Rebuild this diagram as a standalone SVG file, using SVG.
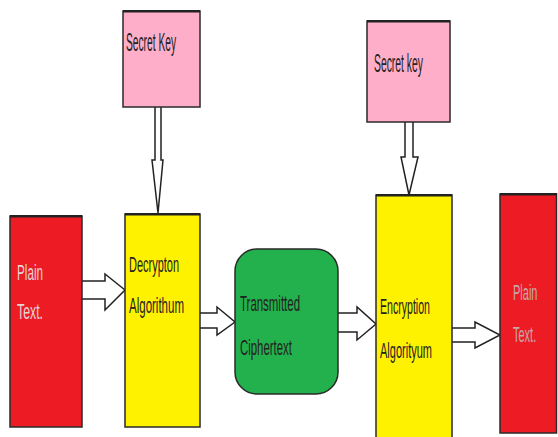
<svg xmlns="http://www.w3.org/2000/svg" width="558" height="437" viewBox="0 0 558 437">
<style>
.box{stroke:#2a2a2a;stroke-width:1.5}
.red{fill:#ed1c24}.yel{fill:#fff200}.grn{fill:#22b14c}.pink{fill:#ffaec9}
.t{font-family:"Liberation Sans",Arial,sans-serif;fill:#222}
.arr{fill:#fff;stroke:#222;stroke-width:1.5;stroke-linejoin:miter}
</style>
<rect width="558" height="437" fill="#fff"/>
<g id="connectors">
<path class="arr" d="M155,107 V160 H152 L158,213 L163,160 H161 V107"/>
<path class="arr" d="M405,122 V157 H401 L409,195 L418,157 H413 V122"/>
<path class="arr" d="M82,281 H105 V274 L125,290 L105,310 V299 H82"/>
<path class="arr" d="M200,313 H217 V307 L235,322 L217,335 V328 H200"/>
<path class="arr" d="M338,313 H357 V307 L376,324 L357,340 V332 H338"/>
<path class="arr" d="M452,328 H475 V322 L500,335 L475,348 V342 H452"/>
</g>
<g id="key1">
<rect class="box pink" x="123" y="11" width="77" height="96"/>
<rect x="123" y="10" width="77" height="2.5" fill="#222"/>
<text class="t" x="126" y="51" font-size="26" textLength="50" lengthAdjust="spacingAndGlyphs">Secret Key</text>
</g>
<g id="key2">
<rect class="box pink" x="367" y="21" width="83" height="101"/>
<rect x="367" y="20" width="83" height="2.5" fill="#222"/>
<text class="t" x="374" y="72" font-size="26" textLength="49" lengthAdjust="spacingAndGlyphs">Secret key</text>
</g>
<g id="plain1">
<rect class="box red" x="10" y="216" width="72" height="211"/>
<rect x="10" y="215" width="72" height="2.5" fill="#222"/>
<text class="t" x="17" y="280" font-size="22" textLength="26" lengthAdjust="spacingAndGlyphs" style="fill:#e4d4d4">Plain</text>
<text class="t" x="17" y="319" font-size="22" textLength="26" lengthAdjust="spacingAndGlyphs" style="fill:#e4d4d4">Text.</text>
</g>
<g id="decryption">
<rect class="box yel" x="125" y="214" width="75" height="213"/>
<rect x="125" y="213" width="75" height="2.5" fill="#222"/>
<text class="t" x="129" y="272" font-size="22" textLength="50" lengthAdjust="spacingAndGlyphs">Decrypton</text>
<text class="t" x="129" y="313" font-size="22" textLength="55" lengthAdjust="spacingAndGlyphs">Algorithum</text>
</g>
<g id="transmitted">
<rect class="box grn" x="235" y="249" width="103" height="145" rx="22" ry="22"/>
<text class="t" x="240" y="311" font-size="22" textLength="60" lengthAdjust="spacingAndGlyphs">Transmitted</text>
<text class="t" x="240" y="355" font-size="22" textLength="52" lengthAdjust="spacingAndGlyphs">Ciphertext</text>
</g>
<g id="encryption">
<rect class="box yel" x="376" y="195" width="76" height="245"/>
<rect x="376" y="194" width="76" height="2.5" fill="#222"/>
<text class="t" x="380" y="314" font-size="22" textLength="50" lengthAdjust="spacingAndGlyphs">Encryption</text>
<text class="t" x="380" y="358" font-size="22" textLength="52" lengthAdjust="spacingAndGlyphs">Algorityum</text>
</g>
<g id="plain2">
<rect class="box red" x="500" y="194" width="56.5" height="239"/>
<rect x="500" y="193" width="57" height="2.5" fill="#222"/>
<text class="t" transform="translate(513,300) scale(0.5,1)" font-size="22" style="fill:#c8a8a8">Plain</text>
<text class="t" transform="translate(513,342) scale(0.5,1)" font-size="22" style="fill:#c8a8a8">Text.</text>
</g>
</svg>
